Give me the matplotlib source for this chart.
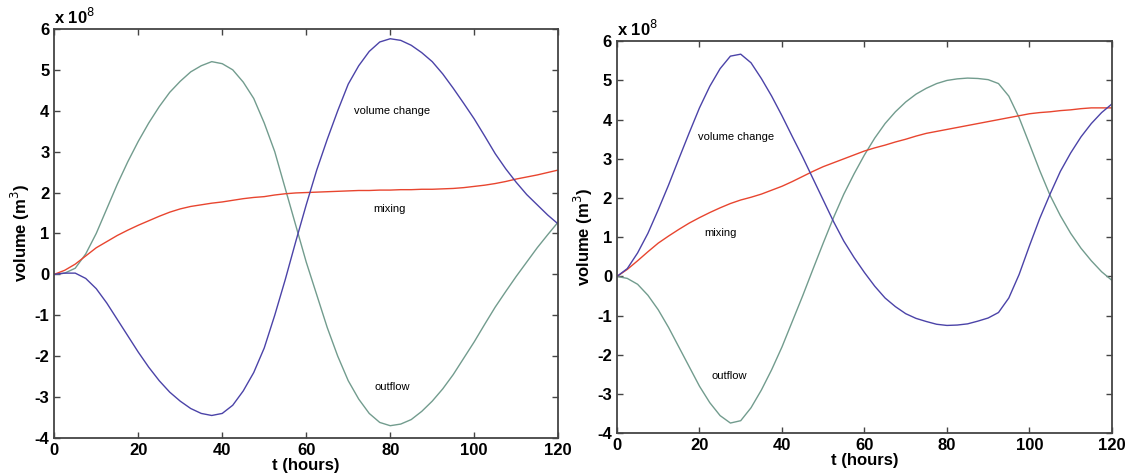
import numpy as np
import matplotlib
matplotlib.use("Agg")
import matplotlib.pyplot as plt

plt.rcParams["font.family"] = ["Liberation Sans", "DejaVu Sans"]
plt.rcParams["axes.unicode_minus"] = False

hours = np.arange(0, 120.1, 2.5)

outflow_left = [0, 0.03, 0.15, 0.5, 1.0, 1.6, 2.2, 2.75, 3.25, 3.7, 4.1,
                4.45, 4.72, 4.95, 5.1, 5.2, 5.15, 5.0, 4.7, 4.3, 3.7, 3.0,
                2.1, 1.2, 0.3, -0.5, -1.3, -2.0, -2.6, -3.05, -3.4, -3.62,
                -3.7, -3.66, -3.55, -3.35, -3.1, -2.8, -2.45, -2.05, -1.65,
                -1.22, -0.8, -0.42, -0.05, 0.3, 0.65, 0.97, 1.28]
mixing_left = [0, 0.1, 0.25, 0.45, 0.65, 0.8, 0.95, 1.08, 1.2, 1.31, 1.42,
               1.52, 1.6, 1.66, 1.7, 1.74, 1.77, 1.81, 1.85, 1.88, 1.9, 1.94,
               1.97, 1.99, 2.0, 2.01, 2.02, 2.03, 2.04, 2.05, 2.05, 2.06,
               2.06, 2.07, 2.07, 2.08, 2.08, 2.09, 2.1, 2.12, 2.15, 2.18,
               2.22, 2.27, 2.33, 2.38, 2.43, 2.49, 2.55]
volume_left = [0, 0.03, 0.03, -0.1, -0.35, -0.7, -1.1, -1.5, -1.9, -2.27,
               -2.6, -2.88, -3.1, -3.28, -3.4, -3.45, -3.4, -3.2, -2.85,
               -2.4, -1.8, -1.0, -0.13, 0.8, 1.7, 2.55, 3.3, 4.0, 4.65, 5.1,
               5.45, 5.68, 5.76, 5.72, 5.6, 5.42, 5.2, 4.9, 4.55, 4.18, 3.8,
               3.38, 2.95, 2.58, 2.25, 1.95, 1.7, 1.45, 1.23]

outflow_right = [0, -0.05, -0.2, -0.48, -0.85, -1.3, -1.8, -2.3, -2.8, -3.22,
                 -3.55, -3.74, -3.68, -3.35, -2.9, -2.38, -1.8, -1.15, -0.5,
                 0.18, 0.85, 1.5, 2.1, 2.62, 3.1, 3.53, 3.9, 4.2, 4.45, 4.65,
                 4.8, 4.92, 5.0, 5.04, 5.06, 5.05, 5.02, 4.92, 4.6, 4.05, 3.38,
                 2.7, 2.07, 1.55, 1.1, 0.72, 0.4, 0.12, -0.1]
mixing_right = [0, 0.18, 0.4, 0.63, 0.85, 1.03, 1.2, 1.36, 1.5, 1.63, 1.75,
                1.86, 1.95, 2.02, 2.1, 2.2, 2.3, 2.42, 2.55, 2.68, 2.8, 2.9,
                3.0, 3.1, 3.2, 3.28, 3.35, 3.43, 3.5, 3.58, 3.65, 3.7, 3.75,
                3.8, 3.85, 3.9, 3.95, 4.0, 4.05, 4.1, 4.15, 4.18, 4.2, 4.23,
                4.25, 4.28, 4.3, 4.3, 4.3]
volume_right = [0, 0.2, 0.6, 1.1, 1.7, 2.33, 3.0, 3.66, 4.3, 4.85, 5.3, 5.62,
                5.67, 5.45, 5.05, 4.6, 4.1, 3.57, 3.05, 2.5, 1.95, 1.4, 0.9,
                0.48, 0.1, -0.25, -0.55, -0.77, -0.95, -1.07, -1.15, -1.22,
                -1.25, -1.24, -1.21, -1.14, -1.06, -0.92, -0.55, 0.05, 0.78,
                1.48, 2.1, 2.68, 3.15, 3.56, 3.9, 4.18, 4.4]

c_blue = "#4b43a8"
c_green = "#729c8e"
c_red = "#e8452f"


def draw_panel(ax, outflow, mixing, volume, labels):
    ax.plot(hours, outflow, color=c_green, lw=1.0)
    ax.plot(hours, mixing, color=c_red, lw=1.0)
    ax.plot(hours, volume, color=c_blue, lw=1.0)
    ax.set_xlim(0, 120)
    ax.set_ylim(-4, 6)
    ax.set_xticks(np.arange(0, 121, 20))
    ax.set_yticks(np.arange(-4, 7, 1))
    ax.tick_params(direction="in", top=True, right=True, length=4,
                   labelsize=12, width=1, color="#444444")
    for lab in ax.get_xticklabels() + ax.get_yticklabels():
        lab.set_fontweight("bold")
    for sp in ax.spines.values():
        sp.set_color("#444444")
        sp.set_linewidth(1.3)
    ax.set_xlabel("t (hours)", fontsize=12, fontweight="bold", labelpad=0)
    ax.set_ylabel("volume (m$^3$)", fontsize=12, fontweight="bold", labelpad=2)
    ax.text(0.0, 1.005, r"x 10$^8$", transform=ax.transAxes, fontsize=12,
            fontweight="bold", ha="left", va="bottom")
    for txt, x, y in labels:
        ax.text(x, y, txt, fontsize=8, ha="center", va="center")


fig = plt.figure(figsize=(11.3, 4.74), dpi=100)
ax1 = fig.add_axes([0.048, 0.076, 0.446, 0.863])
ax2 = fig.add_axes([0.546, 0.086, 0.438, 0.827])

draw_panel(ax1, outflow_left, mixing_left, volume_left,
           [("volume change", 80.5, 4.0), ("mixing", 79.8, 1.6),
            ("outflow", 80.5, -2.75)])
draw_panel(ax2, outflow_right, mixing_right, volume_right,
           [("volume change", 28.8, 3.55), ("mixing", 25.2, 1.12),
            ("outflow", 27.1, -2.53)])

fig.savefig("out.png", dpi=100)
